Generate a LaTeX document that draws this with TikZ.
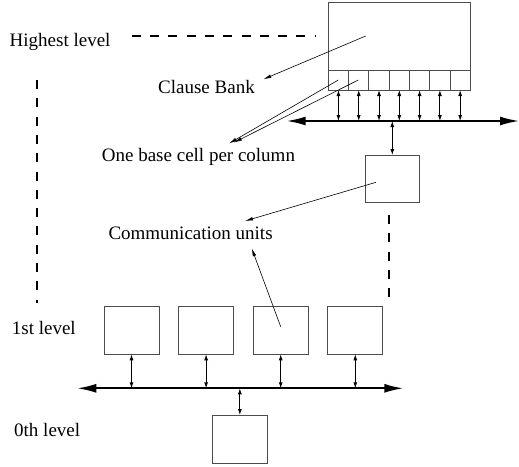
\documentclass[tikz,border=0pt]{standalone}
\usepackage{fontspec}
\setmainfont{Liberation Serif}
\usetikzlibrary{arrows.meta}
\begin{document}
\begin{tikzpicture}[x=1pt,y=-1pt,
 box/.style={draw=black!70,line width=0.8pt,inner sep=0pt,outer sep=0pt,anchor=north west},
 lbl/.style={anchor=base west,inner sep=0pt,font=\fontsize{19}{22}\selectfont},
 bus/.style={line width=1.8pt,{Latex[length=19pt,width=9pt]}-{Latex[length=19pt,width=9pt]}},
 link/.style={line width=0.9pt,{Latex[length=6pt,width=4pt]}-{Latex[length=6pt,width=4pt]}},
 ptr/.style={line width=0.6pt,-{Latex[length=8pt,width=3.5pt]}},
 lvl/.style={line width=1.8pt,dash pattern=on 9pt off 9.3pt}]
\useasboundingbox (0,0) rectangle (519,466);
% labels
\node[lbl] (hl) at (9.5,46.7) {Highest level};
\node[lbl] (cb) at (158,93.3) {Clause Bank};
\node[lbl] (ob) at (101.7,161.7) {One base cell per column};
\node[lbl] (cu) at (108.3,239.3) {Communication units};
\node[lbl] (l1) at (11.7,334.3) {1st level};
\node[lbl] (l0) at (14,436) {0th level};
% clause bank
\node[box,minimum width=142pt,minimum height=67.7pt] (bank) at (328.3,2.3) {};
\foreach \i in {0,...,6}
  \node[box,minimum width=20.29pt,minimum height=20pt] (c\i) at ({328.3+20.29*\i},70) {};
% upper bus
\coordinate (ubL) at (286.7,121);
\coordinate (ubR) at (519,121);
\draw[bus] (ubL) -- (ubR);
\foreach \i in {0,...,6}
  \draw[link] (c\i.south) -- (c\i.south |- ubL);
% top communication unit
\node[box,minimum width=54pt,minimum height=47.3pt] (tcu) at (365.3,155) {};
\draw[link] (tcu.north |- ubL) -- (tcu.north);
% level 1 boxes
\foreach \i/\x in {1/104,2/178.6,3/253.2,4/327.8}
  \node[box,minimum width=55pt,minimum height=47.6pt] (b\i) at (\x,306.7) {};
% lower bus
\coordinate (lbL) at (77.3,388.3);
\coordinate (lbR) at (403.3,388.3);
\draw[bus] (lbL) -- (lbR);
\foreach \i in {1,...,4}
  \draw[link] (b\i.south) -- (b\i.south |- lbL);
% level 0 box
\node[box,minimum width=54.3pt,minimum height=48.3pt] (b0) at (212.7,415) {};
\draw[link] (b0.north |- lbL) -- (b0.north);
% pointers
\coordinate (pbank) at (365.7,36);
\coordinate (tcb) at (263.3,79.3);
\draw[ptr] (pbank) -- (tcb);
\coordinate (pc0) at (338.3,80);
\coordinate (pc1) at (358.3,80);
\coordinate (tob1) at (229,143.5);
\coordinate (tob2) at (234,142.5);
\draw[ptr] (pc0) -- (tob1);
\draw[ptr] (pc1) -- (tob2);
\coordinate (ptcu) at (376,182.3);
\coordinate (tcu1) at (245,221);
\draw[ptr] (ptcu) -- (tcu1);
\coordinate (pb3) at (280.7,326.7);
\coordinate (tcu2) at (251.7,248.3);
\draw[ptr] (pb3) -- (tcu2);
% level dashed lines
\coordinate (dh1) at (131.7,35.7);
\coordinate (dh2) at (315,35.7);
\draw[lvl] (dh1) -- (dh2);
\coordinate (dl1) at (36.7,80);
\coordinate (dl2) at (36.7,303.3);
\draw[lvl] (dl1) -- (dl2);
\coordinate (dr1) at (389,215);
\coordinate (dr2) at (389,296.7);
\draw[lvl] (dr1) -- (dr2);
\end{tikzpicture}
\end{document}
